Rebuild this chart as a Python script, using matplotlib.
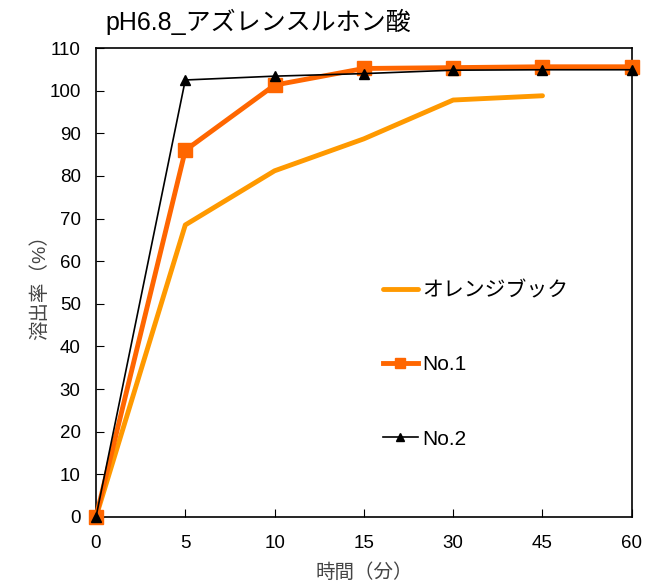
import matplotlib
matplotlib.use("Agg")
import matplotlib.pyplot as plt

plt.rcParams['font.family'] = ['Liberation Sans', 'Noto Sans CJK JP', 'DejaVu Sans']

times = ["0", "5", "10", "15", "30", "45", "60"]
orange_book = [0, 68.5, 81.2, 88.7, 97.8, 98.8]
no1 = [0, 86.0, 101.3, 105.2, 105.4, 105.6, 105.6]
no2 = [0, 102.5, 103.4, 104.0, 104.8, 104.9, 104.9]

fig = plt.figure(figsize=(6.46, 5.82), dpi=100)
ax = fig.add_axes([0.1486, 0.1117, 0.8294, 0.8058])

x = list(range(len(times)))
ax.plot(x[:len(orange_book)], orange_book, color="#FF9900", lw=3.5,
        solid_capstyle="round", label="オレンジブック")
ax.plot(x, no1, color="#FF6600", lw=3.5, marker="s", ms=10,
        label="No.1", clip_on=False, zorder=3)
ax.plot(x, no2, color="black", lw=1.2, marker="^", ms=7,
        label="No.2", clip_on=False, zorder=4)

ax.set_xlim(0, len(times) - 1)
ax.set_ylim(0, 110)
ax.set_xticks(x)
ax.set_xticklabels(times)
ax.set_yticks(range(0, 111, 10))
ax.tick_params(direction="in", labelsize=13.5, length=6)
ax.tick_params(axis="x", pad=13)
ax.tick_params(axis="y", pad=11)
for s in ax.spines.values():
    s.set_linewidth(1.2)

ax.set_xlabel("時間（分）", fontsize=14, labelpad=8, color="#444444")
ax.set_ylabel("溶出率（%）", fontsize=14, labelpad=0, color="#444444")
fig.text(0.163, 0.962, "pH6.8_アズレンスルホン酸", fontsize=18, va="center")

leg = ax.legend(loc="upper left", bbox_to_anchor=(0.535, 0.503), frameon=False,
                fontsize=15, labelspacing=2.65, handlelength=1.7,
                handletextpad=0.2, borderpad=0, borderaxespad=0,
                markerscale=0.75)

fig.savefig("out.png", dpi=100)
